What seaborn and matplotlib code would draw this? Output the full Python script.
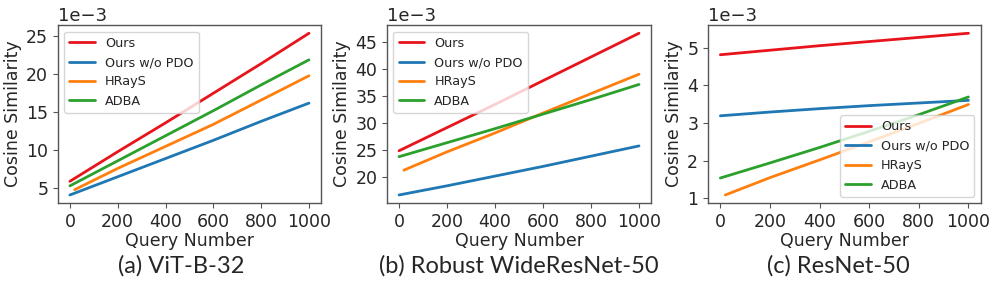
import pandas as pd
import matplotlib
matplotlib.use('Agg')
import matplotlib.pyplot as plt
from matplotlib.ticker import MultipleLocator
import seaborn as sns

methods = ['Ours', 'Ours w/o PDO', 'HRayS', 'ADBA']
colors = ['#e8141c', '#1f77b4', '#ff7f0e', '#2ca02c']

queries = [0, 200, 400, 600, 800, 1000]
queries_hrays = [20, 200, 400, 600, 800, 1000]

# values in units of 1e-3
vit_ours = [5.9, 9.8, 13.6, 17.5, 21.4, 25.4]
vit_nopdo = [4.1, 6.5, 8.9, 11.3, 13.8, 16.2]
vit_hrays = [4.8, 7.6, 10.5, 13.4, 16.6, 19.8]
vit_adba = [5.3, 8.6, 11.9, 15.2, 18.6, 21.9]

wrn_ours = [24.8, 29.1, 33.4, 37.8, 42.2, 46.6]
wrn_nopdo = [16.6, 18.3, 20.1, 21.9, 23.8, 25.7]
wrn_hrays = [21.2, 24.6, 28.1, 31.8, 35.4, 39.0]
wrn_adba = [23.7, 26.3, 28.9, 31.6, 34.3, 37.1]

rn_ours = [4.81, 4.93, 5.05, 5.16, 5.27, 5.38]
rn_nopdo = [3.19, 3.29, 3.38, 3.46, 3.53, 3.60]
rn_hrays = [1.09, 1.55, 2.02, 2.50, 2.99, 3.49]
rn_adba = [1.54, 1.94, 2.35, 2.78, 3.22, 3.69]

titles = ['(a) ViT-B-32', '(b) Robust WideResNet-50', '(c) ResNet-50']
legend_locs = ['upper left', 'upper left', 'lower right']
y_steps = [5, 5, 1]


def make_df(ours, nopdo, hrays, adba):
    rows = []
    for name, xs, ys in [('Ours', queries, ours), ('Ours w/o PDO', queries, nopdo),
                         ('HRayS', queries_hrays, hrays), ('ADBA', queries, adba)]:
        for x, y in zip(xs, ys):
            rows.append({'query': x, 'value': y * 1e-3, 'method': name})
    return pd.DataFrame(rows)


dfs = [make_df(vit_ours, vit_nopdo, vit_hrays, vit_adba),
       make_df(wrn_ours, wrn_nopdo, wrn_hrays, wrn_adba),
       make_df(rn_ours, rn_nopdo, rn_hrays, rn_adba)]

sns.set_style('white')
plt.rcParams['font.family'] = ['DejaVu Sans']

fig = plt.figure(figsize=(9.96, 2.86), dpi=100)
positions = [[0.0582, 0.290, 0.264, 0.622],
             [0.3886, 0.290, 0.265, 0.622],
             [0.7108, 0.290, 0.274, 0.622]]
title_x = [181 / 996, 519 / 996, 838 / 996]

for i, df in enumerate(dfs):
    ax = fig.add_axes(positions[i])
    sns.lineplot(data=df, x='query', y='value', hue='method', hue_order=methods,
                 palette=colors, linewidth=2, ax=ax)
    ax.yaxis.set_major_locator(MultipleLocator(y_steps[i] * 1e-3))
    ax.ticklabel_format(axis='y', style='sci', scilimits=(-3, -3))
    ax.yaxis.get_offset_text().set_fontsize(13)
    ax.set_xticks([0, 200, 400, 600, 800, 1000])
    ax.tick_params(labelsize=12.5, length=3.5, color='#555555', left=True, bottom=True)
    ax.set_xlabel('Query Number', fontsize=12.5, labelpad=1)
    ax.set_ylabel('Cosine Similarity', fontsize=12.5, labelpad=3)
    for s in ax.spines.values():
        s.set_color('#555555')
        s.set_linewidth(1)
    ax.legend(loc=legend_locs[i], fontsize=9.2, frameon=True)
    fig.text(title_x[i], 0.07, titles[i], ha='center', va='center', fontsize=17,
             family=['Lato', 'DejaVu Sans'])

fig.savefig('out.png', dpi=100)
